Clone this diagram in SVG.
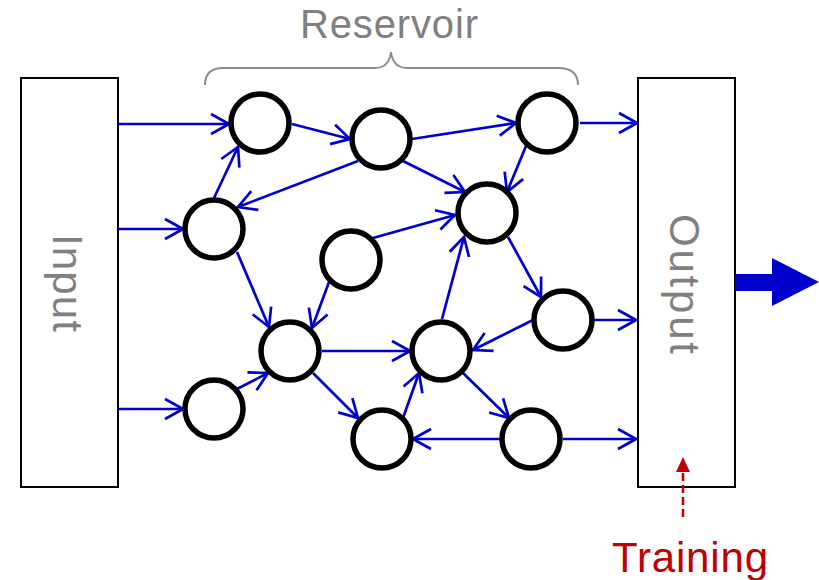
<svg xmlns="http://www.w3.org/2000/svg" width="819" height="580" viewBox="0 0 819 580">
  <style>
    .box { fill: #ffffff; stroke: #000000; stroke-width: 2; }
    .node { fill: #ffffff; stroke: #000000; stroke-width: 5.5; }
    .edge { fill: none; stroke: #0000cc; stroke-width: 2.7; marker-end: url(#vee); }
    .label { font-family: "Liberation Sans", Arial, sans-serif; fill: #808080; }
  </style>
  <defs>
    <marker id="vee" viewBox="-22 -13 24 26" refX="0" refY="0" markerWidth="24" markerHeight="26" markerUnits="userSpaceOnUse" orient="auto">
      <path d="M-18,-10 L0,0 L-18,10" fill="none" stroke="#0000cc" stroke-width="2.7"/>
    </marker>
  </defs>

  <rect width="819" height="580" fill="#ffffff"/>

  <!-- reservoir brace and title -->
  <g id="reservoir-label">
    <path d="M205,85 Q205,68 223,68 L375,68 Q389,68 391,52 Q393,68 407,68 L558,68 Q578,68 578,85" fill="none" stroke="#8c8c8c" stroke-width="2"/>
    <text class="label" x="389" y="38" font-size="40" text-anchor="middle" textLength="178" lengthAdjust="spacing">Reservoir</text>
  </g>

  <!-- input layer -->
  <g id="input">
    <rect class="box" x="21" y="78" width="97" height="409"/>
    <text class="label" font-size="42" text-anchor="middle" textLength="98" lengthAdjust="spacing" transform="translate(53,283) rotate(90)">Input</text>
  </g>

  <!-- output layer -->
  <g id="output">
    <rect class="box" x="638" y="78" width="97" height="409"/>
    <text class="label" font-size="42" text-anchor="middle" textLength="140" lengthAdjust="spacing" transform="translate(670,284) rotate(90)">Output</text>
  </g>

  <!-- connectors -->
  <g id="connectors">
    <line class="edge" x1="118" y1="124" x2="229" y2="124"/>
    <line class="edge" x1="118" y1="229" x2="183" y2="229"/>
    <line class="edge" x1="118" y1="409" x2="183" y2="409"/>

    <line class="edge" x1="292" y1="124" x2="350" y2="139"/>
    <line class="edge" x1="412" y1="139" x2="516" y2="123"/>
    <line class="edge" x1="580" y1="123" x2="637" y2="123"/>
    <line class="edge" x1="526" y1="146" x2="507" y2="192"/>
    <line class="edge" x1="403" y1="161" x2="465" y2="192"/>
    <line class="edge" x1="358" y1="161" x2="238" y2="207"/>
    <line class="edge" x1="214" y1="198" x2="238" y2="147"/>
    <line class="edge" x1="373" y1="238" x2="455" y2="215"/>
    <line class="edge" x1="237" y1="252" x2="269" y2="327"/>
    <line class="edge" x1="329" y1="282" x2="312" y2="328"/>
    <line class="edge" x1="322" y1="351" x2="410" y2="351"/>
    <line class="edge" x1="237" y1="389" x2="268" y2="373"/>
    <line class="edge" x1="313" y1="373" x2="358" y2="418"/>
    <line class="edge" x1="403" y1="418" x2="419" y2="373"/>
    <line class="edge" x1="442" y1="319" x2="464" y2="237"/>
    <line class="edge" x1="508" y1="237" x2="541" y2="297"/>
    <line class="edge" x1="594" y1="320" x2="636" y2="320"/>
    <line class="edge" x1="533" y1="320" x2="473" y2="350"/>
    <line class="edge" x1="463" y1="373" x2="509" y2="418"/>
    <line class="edge" x1="500" y1="439" x2="413" y2="439"/>
    <line class="edge" x1="563" y1="439" x2="636" y2="439"/>
  </g>

  <!-- reservoir neurons -->
  <g id="n1"><circle class="node" cx="260" cy="123" r="29"/></g>
  <g id="n2"><circle class="node" cx="381" cy="139" r="29"/></g>
  <g id="n3"><circle class="node" cx="547" cy="123" r="29"/></g>
  <g id="n4"><circle class="node" cx="214" cy="229" r="29"/></g>
  <g id="n5"><circle class="node" cx="487" cy="213" r="29"/></g>
  <g id="n6"><circle class="node" cx="351" cy="260" r="29"/></g>
  <g id="n7"><circle class="node" cx="563" cy="320" r="29"/></g>
  <g id="n8"><circle class="node" cx="290" cy="351" r="29"/></g>
  <g id="n9"><circle class="node" cx="441" cy="351" r="29"/></g>
  <g id="n10"><circle class="node" cx="214" cy="409" r="29"/></g>
  <g id="n11"><circle class="node" cx="382" cy="439" r="29"/></g>
  <g id="n12"><circle class="node" cx="531" cy="439" r="29"/></g>

  <!-- readout arrow -->
  <g id="readout">
    <polygon points="735,274 772,274 772,258 819,282 772,306 772,291 735,291" fill="#0000cc"/>
  </g>

  <!-- training signal -->
  <g id="training">
    <line x1="683" y1="517" x2="683" y2="471" stroke="#c00000" stroke-width="2.5" stroke-dasharray="8 4"/>
    <polygon points="683,457 676,472 690,472" fill="#c00000"/>
    <text x="690" y="572" font-size="42" text-anchor="middle" textLength="156" lengthAdjust="spacing" font-family="'Liberation Sans', Arial, sans-serif" fill="#c00000">Training</text>
  </g>
</svg>
